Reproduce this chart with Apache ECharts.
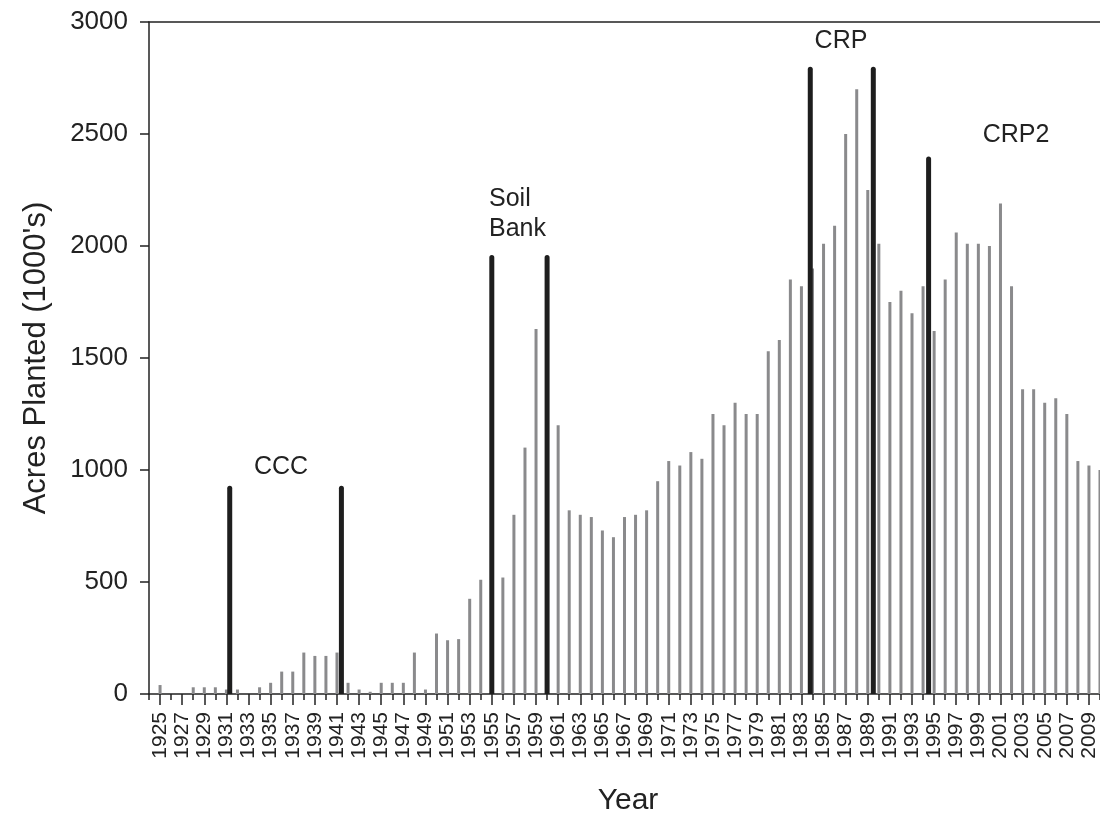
<!DOCTYPE html>
<html><head><meta charset="utf-8">
<script src="https://cdn.jsdelivr.net/npm/echarts@6/dist/echarts.min.js"></script>
<style>html,body{margin:0;padding:0;background:#fff}#c{width:1100px;height:818px}</style>
</head><body><div id="c"></div>
<script>
const years = ['1924','1925','1926','1927','1928','1929','1930','1931','1932','1933','1934','1935','1936','1937','1938','1939',
'1940','1941','1942','1943','1944','1945','1946','1947','1948','1949','1950','1951','1952','1953','1954','1955','1956','1957',
'1958','1959','1960','1961','1962','1963','1964','1965','1966','1967','1968','1969','1970','1971','1972','1973','1974','1975',
'1976','1977','1978','1979','1980','1981','1982','1983','1984','1985','1986','1987','1988','1989','1990','1991','1992','1993',
'1994','1995','1996','1997','1998','1999','2000','2001','2002','2003','2004','2005','2006','2007','2008','2009','2010'];
const acres = [null,40,0,0,30,30,30,20,20,0,30,50,100,100,185,170,
170,185,50,20,10,50,50,50,185,20,270,240,245,425,510,null,520,800,
1100,1630,null,1200,820,800,790,730,700,790,800,820,950,1040,1020,1080,1050,1250,
1200,1300,1250,1250,1530,1580,1850,1820,1900,2010,2090,2500,2700,2250,2010,1750,1800,1700,
1820,1620,1850,2060,2010,2010,2000,2190,1820,1360,1360,1300,1320,1250,1040,1020,1000];
const programYears = [1931.3, 1941.4, 1955, 1960, 1983.8, 1989.5, 1994.5];
const programHeights = [930, 930, 1960, 1960, 2800, 2800, 2400];
const yTicks = [0, 500, 1000, 1500, 2000, 2500, 3000];

const FONT = 'Liberation Sans, Arial, sans-serif';
const TXT = '#222';
const chart = echarts.init(document.getElementById('c'), null, {renderer: 'canvas'});
const odd = (i) => i % 2 === 1;
chart.setOption({
  animation: false,
  grid: {left: 149, right: 0, top: 22, bottom: 124, containLabel: false},
  xAxis: [
    {type: 'category', data: years, boundaryGap: false, position: 'bottom',
     axisLine: {lineStyle: {color: TXT, width: 1.5}},
     axisTick: {interval: odd, length: 11, lineStyle: {color: TXT, width: 1.5}},
     axisLabel: {interval: odd, rotate: 90, fontSize: 21, color: TXT, fontFamily: FONT, margin: 18},
     splitLine: {show: false}},
    {type: 'category', data: years, boundaryGap: false, position: 'bottom',
     axisLine: {show: false},
     axisTick: {interval: 0, length: 6, lineStyle: {color: TXT, width: 1.5}},
     axisLabel: {show: false}, splitLine: {show: false}},
    {type: 'value', min: 1924, max: 2010, position: 'top',
     axisLine: {show: true, onZero: false, lineStyle: {color: TXT, width: 1.5}},
     axisTick: {show: false}, axisLabel: {show: false}, splitLine: {show: false}}
  ],
  yAxis: {type: 'value', min: yTicks[0], max: yTicks[yTicks.length - 1], interval: 500,
    name: 'Acres Planted (1000\'s)', nameLocation: 'middle', nameGap: 97,
    nameTextStyle: {fontSize: 31, color: TXT, fontFamily: FONT},
    axisLine: {show: true, lineStyle: {color: TXT, width: 1.5}},
    axisTick: {show: true, length: 9, lineStyle: {color: TXT, width: 1.5}},
    axisLabel: {fontSize: 26, color: TXT, fontFamily: FONT, margin: 21, formatter: (v) => String(v)},
    splitLine: {show: false}},
  series: [
    {type: 'bar', xAxisIndex: 0, data: acres, barWidth: 3, itemStyle: {color: '#8a8a8c'}, z: 2},
    {type: 'bar', xAxisIndex: 2, data: programYears.map((y, i) => [y, programHeights[i]]), barWidth: 5,
     itemStyle: {color: '#1e1e1e', borderRadius: [3, 3, 0, 0]}, z: 3}
  ],
  graphic: [
    {type: 'text', x: 628, y: 816, style: {text: 'Year', font: '30px ' + FONT, fill: TXT, textAlign: 'center', textVerticalAlign: 'bottom'}},
    {type: 'text', x: 281, y: 480, style: {text: 'CCC', font: '25px ' + FONT, fill: TXT, textAlign: 'center', textVerticalAlign: 'bottom'}},
    {type: 'text', x: 489, y: 212, style: {text: 'Soil', font: '25px ' + FONT, fill: TXT, textAlign: 'left', textVerticalAlign: 'bottom'}},
    {type: 'text', x: 489, y: 242, style: {text: 'Bank', font: '25px ' + FONT, fill: TXT, textAlign: 'left', textVerticalAlign: 'bottom'}},
    {type: 'text', x: 841, y: 54, style: {text: 'CRP', font: '25px ' + FONT, fill: TXT, textAlign: 'center', textVerticalAlign: 'bottom'}},
    {type: 'text', x: 1016, y: 148, style: {text: 'CRP2', font: '25px ' + FONT, fill: TXT, textAlign: 'center', textVerticalAlign: 'bottom'}}
  ]
});
</script></body></html>
